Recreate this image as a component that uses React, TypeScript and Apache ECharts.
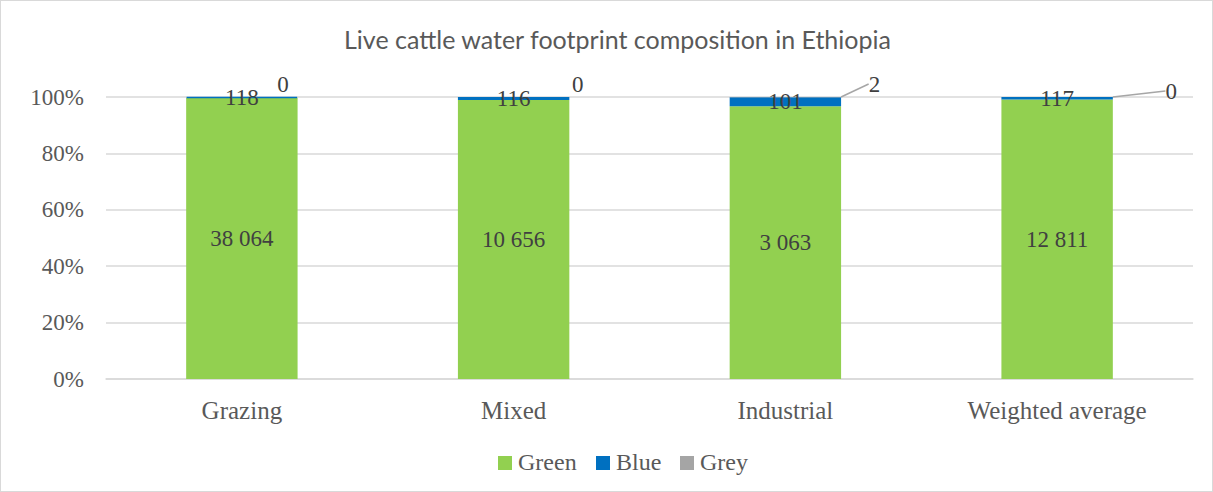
import React, { useEffect, useRef } from "react";
import * as echarts from "echarts";

const categories = ["Grazing", "Mixed", "Industrial", "Weighted average"];
const seriesNames = ["Green", "Blue", "Grey"];
const seriesColors = ["#92d050", "#0070c0", "#a5a5a5"];
const greenValues = [38064, 10656, 3063, 12811];
const blueValues = [118, 116, 101, 117];
const greyValues = [0, 0, 2, 0];
const yTicks = [0, 20, 40, 60, 80, 100];

const totals = categories.map((_, i) => greenValues[i] + blueValues[i] + greyValues[i]);
const toShare = (vals: number[]) => vals.map((v, i) => (v / totals[i]) * 100);

const fmt = (n: number) => String(n).replace(/\B(?=(\d{3})+(?!\d))/g, " ");

// where each grey label sits relative to the top centre of its bar
const greyLabelShift = [
  { dx: 41, dy: -13, line: false },
  { dx: 64, dy: -13, line: false },
  { dx: 89, dy: -13, line: true },
  { dx: 114, dy: -6, line: true },
];

// legend swatch left edges
const legendX = [497, 595, 679];

export default function App() {
  const ref = useRef<HTMLDivElement>(null);
  useEffect(() => {
    if (!ref.current) return;
    const chart = echarts.init(ref.current, undefined, { renderer: "svg" });
    const serif = "Liberation Serif";
    const labelStyle = { fontFamily: serif, fontSize: 23, color: "#404040" };

    const legendGraphics: any[] = [];
    seriesNames.forEach((name, i) => {
      legendGraphics.push({
        type: "rect",
        left: legendX[i],
        top: 455,
        shape: { width: 14, height: 14 },
        style: { fill: seriesColors[i] },
      });
      legendGraphics.push({
        type: "text",
        left: legendX[i] + 20,
        top: 449,
        style: {
          text: name,
          fontFamily: serif,
          fontSize: 24,
          fill: "#595959",
        },
      });
    });

    chart.setOption({
      animation: false,
      textStyle: { fontFamily: serif },
      title: {
        text: "Live cattle water footprint composition in Ethiopia",
        left: 338,
        top: 20,
        textStyle: { fontFamily: "Lato", fontSize: 25, fontWeight: "normal", color: "#595959" },
      },
      graphic: legendGraphics,
      grid: { left: 105, right: 19, top: 96, bottom: 112 },
      xAxis: {
        type: "category",
        data: categories,
        axisTick: { show: false },
        axisLine: { lineStyle: { color: "#d9d9d9", width: 1.5 } },
        axisLabel: { fontFamily: serif, fontSize: 25, color: "#595959", margin: 19 },
      },
      yAxis: {
        type: "value",
        min: yTicks[0],
        max: yTicks[yTicks.length - 1],
        interval: 20,
        axisLabel: { formatter: "{value}%", fontFamily: serif, fontSize: 23, color: "#595959", margin: 22 },
        splitLine: { lineStyle: { color: "#d9d9d9", width: 1.5 } },
        axisLine: { show: false },
        axisTick: { show: false },
      },
      series: [
        {
          name: seriesNames[0],
          type: "bar",
          stack: "total",
          barWidth: "41%",
          itemStyle: { color: seriesColors[0] },
          data: toShare(greenValues),
          label: {
            show: true,
            position: "inside",
            ...labelStyle,
            formatter: (p: any) => fmt(greenValues[p.dataIndex]),
          },
        },
        {
          name: seriesNames[1],
          type: "bar",
          stack: "total",
          itemStyle: { color: seriesColors[1], borderColor: seriesColors[1], borderWidth: 1.5 },
          data: toShare(blueValues),
          label: {
            show: true,
            position: "inside",
            ...labelStyle,
            formatter: (p: any) => fmt(blueValues[p.dataIndex]),
          },
        },
        {
          name: seriesNames[2],
          type: "bar",
          stack: "total",
          itemStyle: { color: seriesColors[2] },
          data: toShare(greyValues).map((v, i) => ({
            value: v,
            labelLine: { show: greyLabelShift[i].line },
          })),
          label: {
            show: true,
            position: "inside",
            ...labelStyle,
            formatter: (p: any) => fmt(greyValues[p.dataIndex]),
          },
          labelLine: { show: true, lineStyle: { color: "#a6a6a6", width: 1.5 } },
          labelLayout: (p: any) => {
            const s = greyLabelShift[p.dataIndex];
            const cx = p.rect.x + p.rect.width / 2;
            const top = p.rect.y;
            const x = cx + s.dx;
            const y = top + s.dy;
            return {
              x,
              y,
              align: "center",
              verticalAlign: "middle",
              labelLinePoints: [
                [cx, top - 1],
                [x - 28, y + 1],
                [x - 10, y + 1],
              ],
            };
          },
        },
      ],
    });
    return () => chart.dispose();
  }, []);
  return (
    <div
      ref={ref}
      style={{
        position: "absolute",
        left: 0,
        top: 0,
        width: 1213,
        height: 492,
        boxSizing: "border-box",
        border: "1px solid #d9d9d9",
        background: "#fff",
      }}
    />
  );
}
